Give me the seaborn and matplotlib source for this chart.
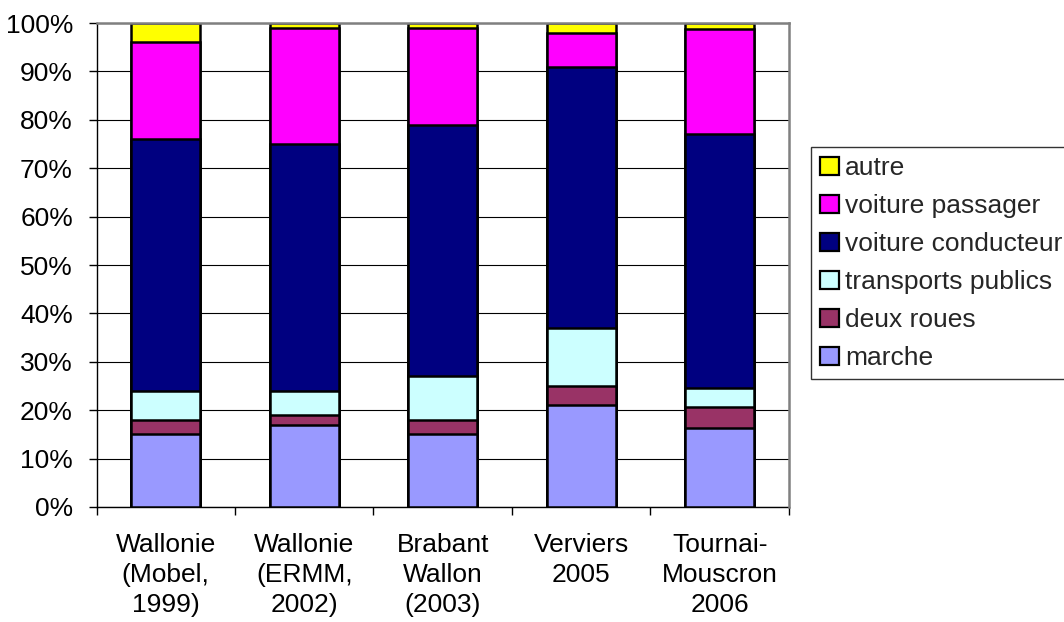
import matplotlib
matplotlib.use("Agg")
import matplotlib.pyplot as plt
from matplotlib.patches import Patch
from matplotlib.ticker import FixedLocator, FuncFormatter
import numpy as np
import pandas as pd
import seaborn as sns

# Modal split of trips per survey (% of trips)
zones = ["Wallonie\n(Mobel,\n1999)", "Wallonie\n(ERMM,\n2002)", "Brabant\nWallon\n(2003)",
         "Verviers\n2005", "Tournai-\nMouscron\n2006"]
marche = [15, 17, 15, 21, 16.4]
deux_roues = [3, 2, 3, 4, 4.2]
transports_publics = [6, 5, 9, 12, 4.0]
voiture_conducteur = [52, 51, 52, 54, 52.5]
voiture_passager = [20, 24, 20, 7, 21.6]
autre = [4, 1, 1, 2, 1.3]

modes = ["marche", "deux roues", "transports publics", "voiture conducteur",
         "voiture passager", "autre"]
series = [marche, deux_roues, transports_publics, voiture_conducteur,
          voiture_passager, autre]
colors = ["#9999FF", "#993366", "#CCFFFF", "#000080", "#FF00FF", "#FFFF00"]

sns.set_theme(style="white")
plt.rcParams["font.family"] = ["Liberation Sans", "DejaVu Sans"]

fig = plt.figure(figsize=(10.64, 6.22), dpi=100)
ax = fig.add_axes([0.0907, 0.1849, 0.6508, 0.7781])

# Stacked bars: draw cumulative totals from the top segment down
cum = np.cumsum(np.array(series, dtype=float), axis=0)
for i in range(len(modes) - 1, -1, -1):
    df = pd.DataFrame({"zone": zones, "val": cum[i]})
    sns.barplot(data=df, x="zone", y="val", color=colors[i], saturation=1,
                width=0.5, edgecolor="black", linewidth=1.8, ax=ax, zorder=3)

ax.set_ylim(0, 100)
ax.set_xlim(-0.5, len(zones) - 0.5)
ax.set_xlabel("")
ax.set_ylabel("")

# Y axis: percent ticks with black gridlines
ax.yaxis.set_major_locator(FixedLocator(np.arange(0, 101, 10)))
ax.yaxis.set_major_formatter(FuncFormatter(lambda v, p: f"{v:.0f}%"))
ax.grid(axis="y", color="black", linewidth=0.8, zorder=0)
ax.set_axisbelow(True)
ax.tick_params(axis="y", which="major", left=True, length=6, width=1,
               color="black", direction="out", pad=11, labelsize=19,
               labelcolor="black")

# X axis: labels centred under bars, ticks at category boundaries
ax.set_xticks(range(len(zones)))
ax.set_xticklabels(zones, linespacing=1.3)
ax.xaxis.set_minor_locator(FixedLocator(np.arange(-0.5, len(zones), 1.0)))
ax.tick_params(axis="x", which="major", bottom=False, length=0, pad=19,
               labelsize=19, labelcolor="black")
ax.tick_params(axis="x", which="minor", bottom=True, length=6, width=1,
               color="black", direction="out")

for side in ["left", "bottom"]:
    ax.spines[side].set_color("black")
    ax.spines[side].set_linewidth(1)
for side in ["top", "right"]:
    ax.spines[side].set_color("#808080")
    ax.spines[side].set_linewidth(1.8)
    ax.spines[side].set_zorder(4)

handles = [Patch(facecolor=c, edgecolor="black", linewidth=1.6)
           for c in colors[::-1]]
leg = fig.legend(handles, modes[::-1], loc="upper left",
                 bbox_to_anchor=(811 / 1064, 1 - 147 / 622),
                 frameon=True, fancybox=False, fontsize=19,
                 handlelength=0.7, handleheight=0.7, handletextpad=0.25,
                 labelspacing=0.53, borderpad=0.35, borderaxespad=0)
leg.get_frame().set_edgecolor("black")
leg.get_frame().set_linewidth(1)

fig.savefig("out.png", dpi=100)
